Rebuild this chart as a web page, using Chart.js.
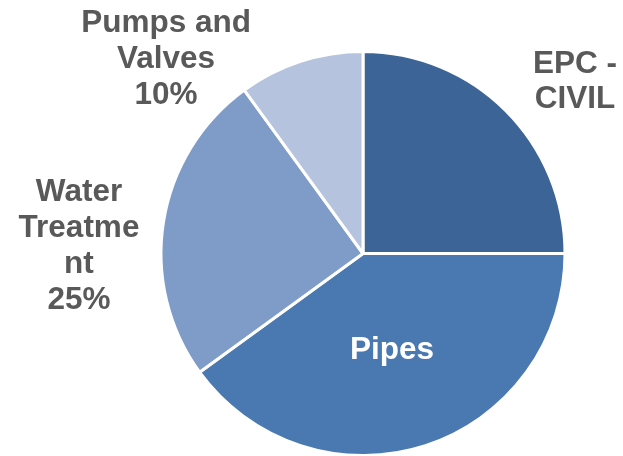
<!DOCTYPE html>
<html>
<head>
<meta charset="utf-8">
<script src="https://cdn.jsdelivr.net/npm/chart.js@4/dist/chart.umd.min.js"></script>
<style>
  html, body { margin: 0; padding: 0; background: #fff; }
  #wrap { width: 623px; height: 456px; }
</style>
</head>
<body>
<div id="wrap"><canvas id="pieCanvas" width="623" height="456"></canvas></div>
<script>
// data
var categories = ['EPC - CIVIL', 'Pipes', 'Water Treatment', 'Pumps and Valves']
var shares = [25, 40, 25, 10]
var labelLines = [
  ['EPC -', 'CIVIL'],
  ['Pipes'],
  ['Water', 'Treatme', 'nt', '25%'],
  ['Pumps and', 'Valves', '10%'],
]
var sliceColors = ['#3C6496', '#4A78B0', '#7F9CC8', '#B5C3DE']

// label anchors, in radius units from the pie centre
var labelSpots = [
  { x: 1.05, y: -0.85, color: '#595959' },
  { x: 0.144, y: 0.48, color: '#ffffff' },
  { x: -1.406, y: -0.035, color: '#595959' },
  { x: -0.975, y: -0.962, color: '#595959' },
]

var sliceLabels = {
  id: 'sliceLabels',
  afterDatasetsDraw: function (chart) {
    var ctx = chart.ctx
    var arcs = chart.getDatasetMeta(0).data
    ctx.save()
    ctx.font = 'bold 31.5px "Liberation Sans", Arial, sans-serif'
    ctx.textAlign = 'center'
    ctx.textBaseline = 'middle'
    arcs.forEach(function (arc, i) {
      var r = arc.outerRadius
      var spot = labelSpots[i]
      var lines = labelLines[i]
      var cx = arc.x + spot.x * r
      var cy = arc.y + spot.y * r
      var lh = 35.8
      ctx.fillStyle = spot.color
      lines.forEach(function (t, k) {
        ctx.fillText(t, cx, cy + (k - (lines.length - 1) / 2) * lh)
      })
    })
    ctx.restore()
  },
}

window.onload = function () {
  var ctx = document.getElementById('pieCanvas').getContext('2d')
  window.myPie = new Chart(ctx, {
    type: 'pie',
    data: {
      labels: categories,
      datasets: [
        {
          data: shares,
          backgroundColor: sliceColors,
          borderColor: '#ffffff',
          borderWidth: 3,
          hoverOffset: 0,
        },
      ],
    },
    options: {
      responsive: false,
      animation: false,
      radius: 202,
      layout: { padding: { left: 161, right: 58, top: 51, bottom: 0 } },
      plugins: {
        legend: { display: false },
        tooltip: { enabled: false },
      },
    },
    plugins: [sliceLabels],
  })
}
</script>
</body>
</html>
